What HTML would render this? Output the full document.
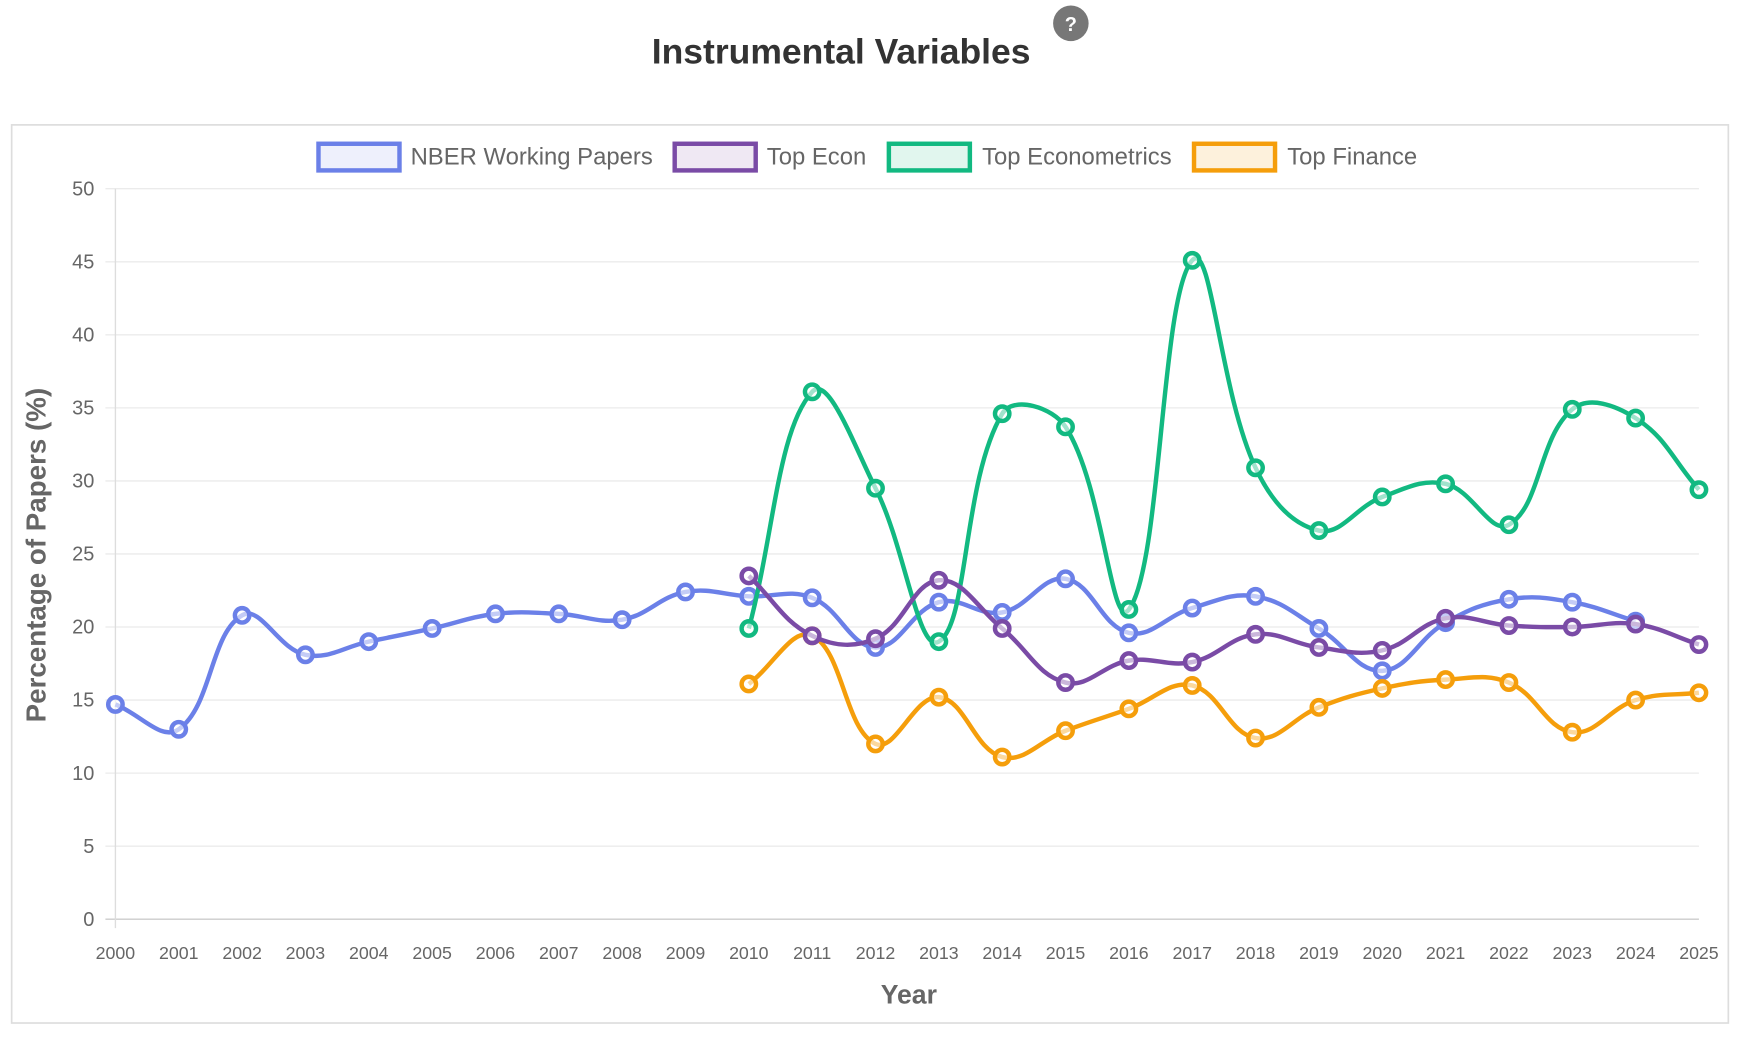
<!DOCTYPE html>
<html><head><meta charset="utf-8"><style>
html,body{margin:0;padding:0;background:#fff;}
svg{display:block;font-family:"Liberation Sans",Arial,sans-serif;}
</style></head><body>
<svg id="s" width="1740" height="1038" viewBox="0 0 1568 935" preserveAspectRatio="none" xmlns="http://www.w3.org/2000/svg">
<text x="758" y="57" text-anchor="middle" font-size="32" font-weight="bold" fill="#333">Instrumental Variables</text>
<circle cx="965" cy="21" r="16" fill="#777"/>
<text x="965" y="28" text-anchor="middle" font-size="18" font-weight="bold" fill="#fff">?</text>
<rect x="10.5" y="112.5" width="1547" height="809" fill="#fff" stroke="#ddd" stroke-width="1.5"/>
<g id="grid"></g>
<g font-size="21.5" fill="#666">
<rect x="287" y="129.5" width="73" height="24" fill="#eef0fc" stroke="#6b80e8" stroke-width="4"/>
<text x="370" y="148">NBER Working Papers</text>
<rect x="608" y="129.5" width="73" height="24" fill="#efe8f3" stroke="#7a4ba6" stroke-width="4"/>
<text x="691" y="148">Top Econ</text>
<rect x="801" y="129.5" width="73" height="24" fill="#e1f6ee" stroke="#12b981" stroke-width="4"/>
<text x="885" y="148">Top Econometrics</text>
<rect x="1076" y="129.5" width="73" height="24" fill="#fdf1dc" stroke="#f59e0b" stroke-width="4"/>
<text x="1160" y="148">Top Finance</text>
</g>
<text x="819" y="904" text-anchor="middle" font-size="24" font-weight="bold" fill="#666">Year</text>
<text transform="translate(41,500) rotate(-90)" text-anchor="middle" font-size="25" font-weight="bold" fill="#666">Percentage of Papers (%)</text>
<g id="series"></g>
</svg>
<script>
var X0=104,DX=(1531-104)/25,Y0=828,DY=(828-170)/50;
function px(i){return X0+i*DX}function py(v){return Y0-v*DY}
var g=document.getElementById('grid'),h='';
for(var v=0;v<=50;v+=5){var y=py(v);h+='<line x1="95" x2="1531" y1="'+y+'" y2="'+y+'" stroke="'+(v==0?'#ccc':'#ebebeb')+'" stroke-width="1.2"/>';
h+='<text x="85" y="'+(y+6)+'" text-anchor="end" font-size="18" fill="#666">'+v+'</text>';}
h+='<line x1="104" x2="104" y1="170" y2="836" stroke="#ddd" stroke-width="1.2"/>';
for(var i=0;i<=25;i++){h+='<text x="'+px(i)+'" y="864" text-anchor="middle" font-size="16" fill="#666">'+(2000+i)+'</text>';}
g.innerHTML=h;
var S=[
{c:'#6b80e8',s:0,d:[14.7,13.0,20.8,18.1,19.0,19.9,20.9,20.9,20.5,22.4,22.1,22.0,18.6,21.7,21.0,23.3,19.6,21.3,22.1,19.9,17.0,20.3,21.9,21.7,20.4]},
{c:'#12b981',s:10,d:[19.9,36.1,29.5,19.0,34.6,33.7,21.2,45.1,30.9,26.6,28.9,29.8,27.0,34.9,34.3,29.4]},
{c:'#f59e0b',s:10,d:[16.1,19.4,12.0,15.2,11.1,12.9,14.4,16.0,12.4,14.5,15.8,16.4,16.2,12.8,15.0,15.5]},
{c:'#7a4ba6',s:10,d:[23.5,19.4,19.2,23.2,19.9,16.2,17.7,17.6,19.5,18.6,18.4,20.6,20.1,20.0,20.2,18.8]}];
var out='';
S.forEach(function(se){var p=se.d.map(function(v,k){return[px(se.s+k),py(v)]});var t=0.4,d='M'+p[0][0]+','+p[0][1];
var cp=p.map(function(c,k){var a=p[k-1]||c,b=p[k+1]||c;var d01=Math.hypot(c[0]-a[0],c[1]-a[1]),d12=Math.hypot(b[0]-c[0],b[1]-c[1]);var s=d01+d12||1;var fa=t*d01/s,fb=t*d12/s;
return{p:[c[0]-fa*(b[0]-a[0]),c[1]-fa*(b[1]-a[1])],n:[c[0]+fb*(b[0]-a[0]),c[1]+fb*(b[1]-a[1])]}});
for(var k=1;k<p.length;k++){d+=' C'+cp[k-1].n[0]+','+cp[k-1].n[1]+' '+cp[k].p[0]+','+cp[k].p[1]+' '+p[k][0]+','+p[k][1];}
out+='<path d="'+d+'" fill="none" stroke="'+se.c+'" stroke-width="4"/>';
p.forEach(function(q){out+='<circle cx="'+q[0]+'" cy="'+q[1]+'" r="6.5" fill="#fff" fill-opacity="0.6" stroke="'+se.c+'" stroke-width="4"/>';});});
document.getElementById('series').innerHTML=out;
</script>
</body></html>
